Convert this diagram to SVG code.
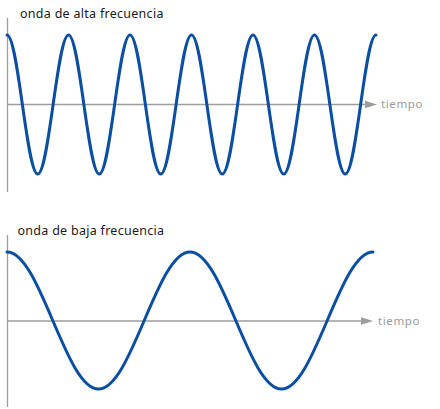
<svg xmlns="http://www.w3.org/2000/svg" width="440" height="409" viewBox="0 0 440 409">
<style>
.title{font-family:"Noto Sans","Liberation Sans",sans-serif;font-size:12.5px;letter-spacing:0.28px;fill:#1a1a1a}
.lab{font-family:"Noto Sans","Liberation Sans",sans-serif;font-size:11.5px;letter-spacing:0.6px;fill:#9a9a9a}
.axis{stroke:#9d9d9d;stroke-width:1.3;fill:none}
.wave{stroke:#0b4ea2;stroke-width:3;fill:none;stroke-linecap:round}
.head{fill:#9d9d9d}
</style>
<rect width="440" height="409" fill="#fff"/>
<g id="connectors">
<line class="axis" x1="7.5" y1="18" x2="7.5" y2="192"/>
<line class="axis" x1="7.5" y1="104.5" x2="367" y2="104.5"/>
<polygon class="head" points="365,100.8 377,104.5 365,108.2"/>
<line class="axis" x1="7.5" y1="235" x2="7.5" y2="407"/>
<line class="axis" x1="7.5" y1="321" x2="363" y2="321"/>
<polygon class="head" points="361,317.3 373,321 361,324.7"/>
</g>
<g id="high">
<text class="title" x="20" y="18">onda de alta frecuencia</text>
<path class="wave" d="M7,35 c 5.564,0 10.361,33.895 15.375,69.5 s 9.811,69.5 15.375,69.5 s 10.361,-33.895 15.375,-69.5 s 9.811,-69.5 15.375,-69.5
s 10.361,33.895 15.375,69.5 s 9.811,69.5 15.375,69.5 s 10.361,-33.895 15.375,-69.5 s 9.811,-69.5 15.375,-69.5
s 10.361,33.895 15.375,69.5 s 9.811,69.5 15.375,69.5 s 10.361,-33.895 15.375,-69.5 s 9.811,-69.5 15.375,-69.5
s 10.361,33.895 15.375,69.5 s 9.811,69.5 15.375,69.5 s 10.361,-33.895 15.375,-69.5 s 9.811,-69.5 15.375,-69.5
s 10.361,33.895 15.375,69.5 s 9.811,69.5 15.375,69.5 s 10.361,-33.895 15.375,-69.5 s 9.811,-69.5 15.375,-69.5
s 10.361,33.895 15.375,69.5 s 9.811,69.5 15.375,69.5 s 10.361,-33.895 15.375,-69.5 s 9.811,-69.5 15.375,-69.5"/>
<text class="lab" x="381" y="108">tiempo</text>
</g>
<g id="low">
<text class="title" x="17.5" y="235">onda de baja frecuencia</text>
<path class="wave" d="M7,252 c 16.557,0 30.831,33.407 45.75,68.5 s 29.193,68.5 45.75,68.5 s 30.831,-33.407 45.75,-68.5 s 29.193,-68.5 45.75,-68.5
s 30.831,33.407 45.75,68.5 s 29.193,68.5 45.75,68.5 s 30.831,-33.407 45.75,-68.5 s 29.193,-68.5 45.75,-68.5"/>
<text class="lab" x="378" y="325">tiempo</text>
</g>
</svg>
